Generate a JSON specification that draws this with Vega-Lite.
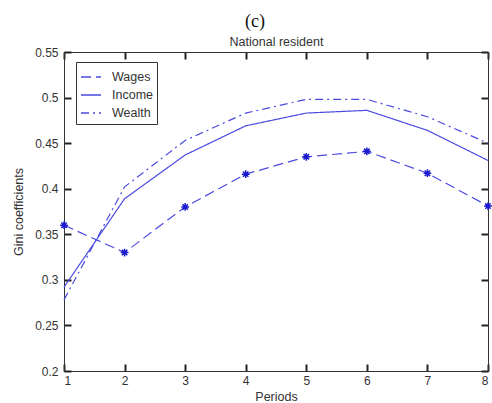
{
  "$schema": "https://vega.github.io/schema/vega-lite/v6.json",
  "width": 424,
  "height": 319,
  "autosize": {"type": "none"},
  "padding": {"left": 64, "top": 52, "right": 4, "bottom": 32},
  "background": "white",
  "title": {
    "text": "(c)",
    "font": "Liberation Serif",
    "fontSize": 18,
    "fontWeight": "normal",
    "color": "#111111",
    "anchor": "middle",
    "dx": -21,
    "offset": 4
  },
  "config": {
    "view": {"stroke": "#333333", "strokeWidth": 1},
    "axis": {
      "grid": false,
      "domainColor": "#333333",
      "labelFont": "Liberation Sans",
      "labelFontSize": 12,
      "labelColor": "#333333",
      "titleFont": "Liberation Sans",
      "titleFontSize": 12.5,
      "titleFontWeight": "normal",
      "titleColor": "#333333"
    }
  },
  "data": {
    "values": [
      {"period": 1, "series": "Wages", "gini": 0.360},
      {"period": 2, "series": "Wages", "gini": 0.330},
      {"period": 3, "series": "Wages", "gini": 0.380},
      {"period": 4, "series": "Wages", "gini": 0.416},
      {"period": 5, "series": "Wages", "gini": 0.435},
      {"period": 6, "series": "Wages", "gini": 0.441},
      {"period": 7, "series": "Wages", "gini": 0.417},
      {"period": 8, "series": "Wages", "gini": 0.381},
      {"period": 1, "series": "Income", "gini": 0.292},
      {"period": 2, "series": "Income", "gini": 0.389},
      {"period": 3, "series": "Income", "gini": 0.437},
      {"period": 4, "series": "Income", "gini": 0.469},
      {"period": 5, "series": "Income", "gini": 0.483},
      {"period": 6, "series": "Income", "gini": 0.486},
      {"period": 7, "series": "Income", "gini": 0.464},
      {"period": 8, "series": "Income", "gini": 0.431},
      {"period": 1, "series": "Wealth", "gini": 0.278},
      {"period": 2, "series": "Wealth", "gini": 0.402},
      {"period": 3, "series": "Wealth", "gini": 0.453},
      {"period": 4, "series": "Wealth", "gini": 0.483},
      {"period": 5, "series": "Wealth", "gini": 0.498},
      {"period": 6, "series": "Wealth", "gini": 0.498},
      {"period": 7, "series": "Wealth", "gini": 0.479},
      {"period": 8, "series": "Wealth", "gini": 0.450}
    ]
  },
  "layer": [
    {
      "mark": {"type": "line", "color": "#4b4be0", "strokeWidth": 1.2},
      "encoding": {
        "x": {
          "field": "period",
          "type": "quantitative",
          "scale": {"domain": [1, 8], "nice": false, "zero": false},
          "axis": {
            "orient": "bottom",
            "values": [1, 2, 3, 4, 5, 6, 7, 8],
            "format": "d",
            "ticks": true,
            "tickSize": -7,
            "tickWidth": 2,
            "tickColor": "#222222",
            "labelPadding": 11,
            "title": "Periods",
            "titlePadding": 4
          }
        },
        "y": {
          "field": "gini",
          "type": "quantitative",
          "scale": {"domain": [0.2, 0.55], "nice": false, "zero": false},
          "axis": {
            "orient": "left",
            "values": [0.2, 0.25, 0.3, 0.35, 0.4, 0.45, 0.5, 0.55],
            "format": ".2~f",
            "ticks": true,
            "tickSize": -7,
            "tickWidth": 2,
            "tickColor": "#222222",
            "labelPadding": 13,
            "title": "Gini coefficients",
            "titlePadding": 9
          }
        },
        "strokeDash": {
          "field": "series",
          "type": "nominal",
          "scale": {
            "domain": ["Wages", "Income", "Wealth"],
            "range": [[10, 5], [1, 0], [8, 4, 2, 4]]
          },
          "legend": {
            "title": null,
            "orient": "none",
            "legendX": 12,
            "legendY": 10,
            "symbolType": "stroke",
            "symbolStrokeColor": "#4b4be0",
            "symbolStrokeWidth": 1.3,
            "symbolSize": 400,
            "labelFont": "Liberation Sans",
            "labelFontSize": 12.5,
            "labelColor": "#333333",
            "strokeColor": "#333333",
            "fillColor": "white",
            "padding": 4,
            "rowPadding": 0,
            "labelOffset": 10
          }
        }
      }
    },
    {
      "transform": [{"filter": "datum.series === 'Wages'"}],
      "mark": {
        "type": "point",
        "shape": "M-1,0L1,0M0,-1L0,1M-0.7,-0.7L0.7,0.7M-0.7,0.7L0.7,-0.7",
        "filled": false,
        "size": 60,
        "stroke": "#1a1acc",
        "strokeWidth": 1.5,
        "opacity": 1
      },
      "encoding": {
        "x": {
          "field": "period",
          "type": "quantitative",
          "axis": {
            "orient": "top",
            "values": [1, 2, 3, 4, 5, 6, 7, 8],
            "ticks": true,
            "tickSize": -7,
            "tickWidth": 2,
            "tickColor": "#222222",
            "labels": false,
            "title": "National resident",
            "titlePadding": 3
          }
        },
        "y": {
          "field": "gini",
          "type": "quantitative",
          "axis": {
            "orient": "right",
            "values": [0.2, 0.25, 0.3, 0.35, 0.4, 0.45, 0.5, 0.55],
            "ticks": true,
            "tickSize": -7,
            "tickWidth": 2,
            "tickColor": "#222222",
            "labels": false,
            "title": null
          }
        }
      }
    }
  ],
  "resolve": {"axis": {"x": "independent", "y": "independent"}}
}
